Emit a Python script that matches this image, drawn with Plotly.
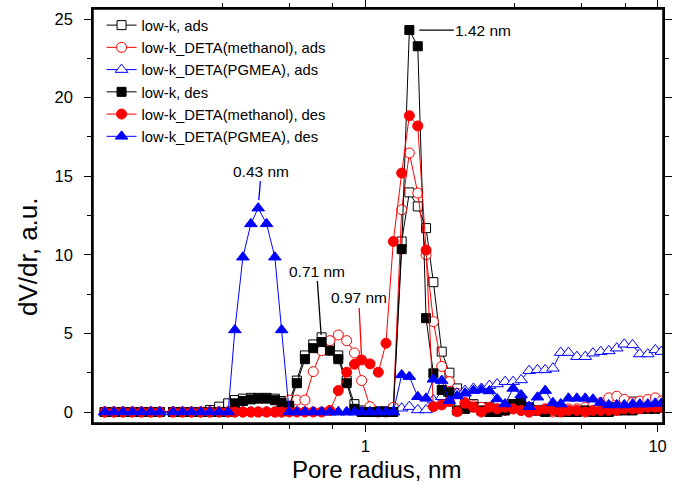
import math
import plotly.graph_objects as go

# Pore radius grid (nm)
R = [0.1284, 0.1381, 0.1483, 0.1597, 0.1715, 0.1845, 0.1981, 0.2201, 0.2369, 0.2544,
     0.2737, 0.2939, 0.3162, 0.3395, 0.3579, 0.3813, 0.4061, 0.4301, 0.4595, 0.4905,
     0.5172, 0.5492, 0.5834, 0.6215, 0.6636, 0.7090, 0.7569, 0.8083, 0.8636, 0.9183,
     0.9721, 1.038, 1.108, 1.177, 1.247, 1.332, 1.415, 1.512, 1.614, 1.710,
     1.826, 1.940, 2.061, 2.194, 2.344, 2.496, 2.659, 2.825, 3.009, 3.205,
     3.414, 3.636, 3.882, 4.125, 4.384, 4.662, 4.956, 5.297, 5.655, 6.009,
     6.390, 6.807, 7.250, 7.691, 8.212, 8.690, 9.257, 9.820, 10.30]

lowk_ads = [0, 0, 0, 0, 0, 0, 0, 0, 0, 0,
            0, 0.13, 0.34, 0.55, 0.76, 0.85, 0.9, 0.9, 0.9, 0.85,
            0.7, 0.6, 2.0, 3.6, 4.3, 4.75, 4.2, 3.6, 2.0, 0.5,
            0.1, 0.05, 0.05, 0.05, 0.2, 10.85, 13.97, 13.08, 11.7, 8.26,
            3.84, 2.5, 1.5, 0.8, 0.5, 0.3, 0.3, 0.2, 0.2, 0.5,
            0.4, 0.2, 0.1, 0.1, 0.1, 0.05, 0.05, 0.1, 0.1, 0.1,
            0.2, 0.3, 0.3, 0.4, 0.66, 0.3, 0.3, 0.3, 0.3]

meoh_ads = [0, 0, 0, 0, 0, 0, 0, 0, 0, 0,
            0, 0, 0, 0, 0, 0, 0, 0, 0, 0,
            0, 0.76, 0.76, 0.76, 2.57, 3.9, 4.54, 4.9, 4.54, 3.76,
            2.0, 0.34, 0.0, 0.0, 0.3, 12.87, 16.48, 13.93, 10.0, 5.75,
            2.9, 1.93, 1.19, 0.6, 0.4, 0.3, 0.2, 0.1, 0.1, 0.2,
            0.1, 0.0, 0.1, 0.1, 0.0, 0.1, 0.2, 0.2, 0.3, 0.4,
            0.6, 0.9, 1.0, 0.8, 0.6, 0.7, 0.8, 0.9, 0.7]

pgmea_ads = [0, 0, 0, 0, 0, 0, 0, 0, 0, 0,
             0, 0, 0, 0, 0, 0, 0, 0, 0, 0,
             0, 0, 0, 0, 0, 0, 0, 0, 0, 0,
             0, 0, 0, 0, 0, 0.24, 0.34, 0.13, 0.13, 0.76,
             0.97, 1.19, 1.19, 1.36, 1.5, 1.5, 1.68, 1.78, 1.93, 1.93,
             2.04, 2.63, 2.68, 2.68, 2.78, 3.78, 3.78, 3.52, 3.52, 3.74,
             3.84, 3.89, 4.06, 4.31, 4.27, 3.69, 3.69, 3.95, 3.84]

lowk_des = [0, 0, 0, 0, 0, 0, 0, 0, 0, 0,
            0, 0, 0, 0, 0.55, 0.7, 0.8, 0.85, 0.85, 0.75,
            0.6, 0.4, 1.83, 3.36, 4.06, 4.45, 3.9, 3.36, 1.83, 0.2,
            0, 0, 0, 0, 0, 10.36, 24.3, 23.27, 5.97, 2.46,
            1.4, 1.25, 0.1, 0.2, 0.3, 0.1, 0.0, 0.0, 0.1, 0.5,
            0.6, 0.3, 0.1, 0.0, 0.1, 0.0, 0.0, 0.0, 0.1, 0.0,
            0.0, 0.0, 0.1, 0.1, 0.1, 0.2, 0.2, 0.2, 0.3]

meoh_des = [0, 0, 0, 0, 0, 0, 0, 0, 0, 0,
            0, 0, 0, 0, 0, 0, 0, 0, 0, 0,
            0, 0, 0, 0, 0, 0, 0.1, 1.36, 2.53, 3.04,
            3.31, 3.06, 2.53, 4.37, 10.85, 15.2, 18.85, 18.2, 10.3, 0.34,
            0.45, 0.66, 0.02, 0.55, 0.3, 0.0, 0.3, 0.2, 0.3, 0.2,
            0.1, 0.0, 0.1, 0.2, 0.1, 0.0, 0.1, 0.1, 0.0, 0.1,
            0.1, 0.1, 0.1, 0.2, 0.2, 0.2, 0.3, 0.3, 0.3]

pgmea_des = [0, 0, 0, 0, 0, 0, 0, 0, 0, 0,
             0, 0, 0, 0, 5.22, 9.85, 11.97, 12.97, 11.97, 9.85,
             5.22, 0, 0, 0, 0, 0, 0, 0, 0, 0,
             0, 0, 0, 0, 0, 2.36, 2.25, 0.97, 0.87, 2.08,
             2.0, 0.72, 1.02, 1.19, 1.36, 1.40, 1.34, 0.83, 0.51, 1.5,
             1.08, 0.34, 0.94, 1.36, 0.59, 0.51, 0.87, 0.87, 0.87, 0.81,
             0.6, 0.45, 0.45, 0.45, 0.5, 0.5, 0.5, 0.55, 0.55]

names = ["low-k, ads", "low-k_DETA(methanol), ads", "low-k_DETA(PGMEA), ads",
         "low-k, des", "low-k_DETA(methanol), des", "low-k_DETA(PGMEA), des"]
series = [lowk_ads, meoh_ads, pgmea_ads, lowk_des, meoh_des, pgmea_des]
colors = ["#000000", "#ff0000", "#0000ff", "#000000", "#ff0000", "#0000ff"]
symbols = ["square", "circle", "triangle-up", "square", "circle", "triangle-up"]
sizes = [9, 10, 11, 9, 10, 11]
filled = [False, False, False, True, True, True]

FONT = "Liberation Sans, Arial, sans-serif"

fig = go.Figure()
for nm, ys, c, sym, sz, f in zip(names, series, colors, symbols, sizes, filled):
    fig.add_trace(go.Scatter(
        x=R, y=ys, name=nm, mode="lines+markers",
        line=dict(color=c, width=1),
        marker=dict(symbol=sym, size=sz, color=c if f else "white",
                    line=dict(color=c, width=1)),
    ))

axis_common = dict(showline=True, linecolor="black", linewidth=1.5, mirror="ticks",
                   ticks="outside", ticklen=7, tickwidth=1.3, tickcolor="black",
                   showgrid=False, zeroline=False, automargin=False,
                   tickfont=dict(family=FONT, size=16.5, color="black"))

fig.update_xaxes(type="log", range=[-0.9315, 1.0185],
                 tickvals=[1, 10], ticktext=["1", "10"],
                 minor=dict(tickvals=[0.325, 0.55, 0.775, 3.25, 5.5, 7.75],
                            ticks="outside", ticklen=4, tickwidth=1.3, tickcolor="black"),
                 **axis_common)
fig.update_yaxes(range=[-0.7, 25.64], tickvals=[0, 5, 10, 15, 20, 25],
                 minor=dict(dtick=2.5, ticks="outside", ticklen=4, tickwidth=1.3,
                            tickcolor="black"),
                 ticklabelstandoff=8,
                 **axis_common)

# frame around the plotting area
fig.add_shape(type="rect", xref="x domain", yref="y domain", x0=0, x1=1, y0=0, y1=1,
              line=dict(color="black", width=1.5), fillcolor="rgba(0,0,0,0)", layer="above")

lx = math.log10
ann_font = dict(family=FONT, size=15.5, color="black")
annotations = [
    dict(x=lx(R[36]), y=lowk_des[36], text="1.42 nm", ax=74, ay=0,
         arrowcolor="black", standoff=10),
    dict(x=lx(R[17]), y=pgmea_des[17], text="0.43 nm", ax=3, ay=-37,
         arrowcolor="blue", standoff=8),
    dict(x=lx(R[25]), y=lowk_des[25], text="0.71 nm", ax=-5, ay=-71,
         arrowcolor="black", standoff=7),
    dict(x=lx(R[30]), y=meoh_des[30], text="0.97 nm", ax=-3, ay=-62,
         arrowcolor="red", standoff=5),
]
for a in annotations:
    fig.add_annotation(xref="x", yref="y", showarrow=True, arrowhead=0,
                       arrowwidth=1.3, font=ann_font, **a)

fig.add_annotation(xref="paper", yref="paper", x=0.498, y=-0.1135,
                   text="Pore radius, nm", showarrow=False,
                   font=dict(family=FONT, size=24, color="black"),
                   xanchor="center", yanchor="middle")
fig.add_annotation(xref="paper", yref="paper", x=-0.114, y=0.401,
                   text="dV/dr, a.u.", showarrow=False, textangle=-90,
                   font=dict(family=FONT, size=26, color="black"),
                   xanchor="center", yanchor="middle")

fig.update_layout(
    width=679, height=488,
    margin=dict(l=93, r=16, t=9, b=65, autoexpand=False),
    paper_bgcolor="white", plot_bgcolor="white",
    font=dict(family=FONT, color="black"),
    showlegend=True,
    legend=dict(x=0.015, y=1.0, xanchor="left", yanchor="top",
                bgcolor="rgba(0,0,0,0)", borderwidth=0,
                font=dict(family=FONT, size=14.8, color="black"),
                tracegroupgap=0),
)

fig.write_html("out.html", config={"displayModeBar": False},
               post_script="document.body.style.margin='0px';document.body.style.padding='0px';")
